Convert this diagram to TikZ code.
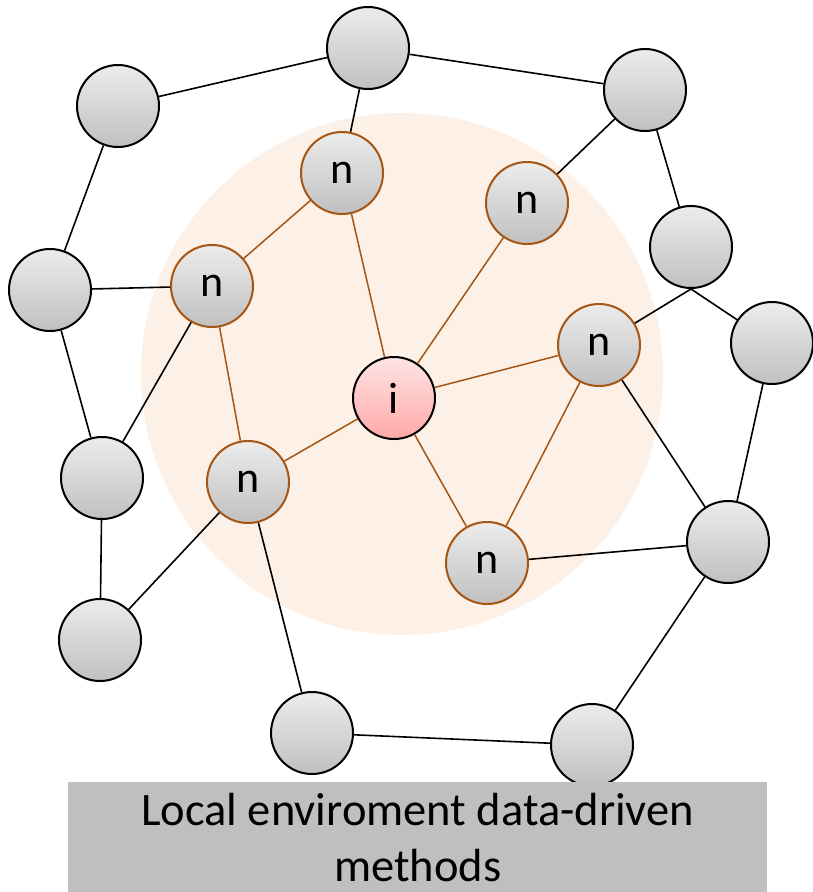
\documentclass[tikz,border=0pt]{standalone}
\usepackage{fontspec}
\setmainfont{Carlito}
\usepackage{tikz}

\definecolor{peach}{RGB}{253,240,230}
\definecolor{rust}{RGB}{165,85,20}
\definecolor{capgray}{RGB}{191,191,191}

\tikzset{
    atom/.style={circle,draw=black,line width=2pt,minimum size=82pt,inner sep=0pt,
        top color={rgb,255:red,236;green,236;blue,236},bottom color={rgb,255:red,192;green,192;blue,192},
        font=\fontsize{44}{44}\selectfont},
    near/.style={atom,draw=rust},
    centre/.style={atom,top color={rgb,255:red,255;green,228;blue,228},bottom color={rgb,255:red,255;green,168;blue,168}},
    bond/.style={line width=1.6pt},
    nbond/.style={line width=1.5pt,rust}
}

\begin{document}
\begin{tikzpicture}[x=1pt,y=-1pt]
        \useasboundingbox (0,0) rectangle (812,892);
        \fill[peach] (402,374) circle (261);
        % outer atoms
        \node[atom] (tl) at (118,106) {};
        \node[atom] (top) at (368,48) {};
        \node[atom] (tr) at (645,90) {};
        \node[atom] (r1) at (691,247) {};
        \node[atom] (r2) at (772,343) {};
        \node[atom] (l1) at (50,290) {};
        \node[atom] (l2) at (102,478) {};
        \node[atom] (bl) at (100,640) {};
        \node[atom] (b1) at (312,733) {};
        \node[atom] (b2) at (592,745) {};
        \node[atom] (r3) at (728,542) {};
        % neighbours and centre
        \node[near] (n1) at (342,173) {n};
        \node[near] (n2) at (527,203) {n};
        \node[near] (n3) at (212,286) {n};
        \node[near] (n4) at (599,345) {n};
        \node[near] (n5) at (248,482) {n};
        \node[near] (n6) at (487,563) {n};
        \node[centre] (ci) at (394,398) {i};
        \draw[bond] (tl)--(top)--(tr)--(r1);
        \draw[bond] (r1.south)--(r2);
        \draw[bond] (r1.south)--(n4);
        \draw[bond] (r2)--(r3)--(n4);
        \draw[bond] (r3)--(n6);
        \draw[bond] (r3)--(b2)--(b1)--(n5)--(bl)--(l2)--(n3)--(l1)--(tl);
        \draw[bond] (l2)--(l1);
        \draw[bond] (top)--(n1);
        \draw[bond] (tr)--(n2);
        \draw[nbond] (n1)--(n3)--(n5)--(ci)--(n1);
        \draw[nbond] (n2)--(ci)--(n4)--(n6)--(ci);
        \node[fill=capgray,minimum width=699pt,minimum height=110pt,anchor=north west,inner sep=0pt,
            align=center,font=\fontsize{46.5}{56}\selectfont] (caption) at (68,782)
            {Local enviroment data-driven\\methods};
    \end{tikzpicture}
\end{document}
